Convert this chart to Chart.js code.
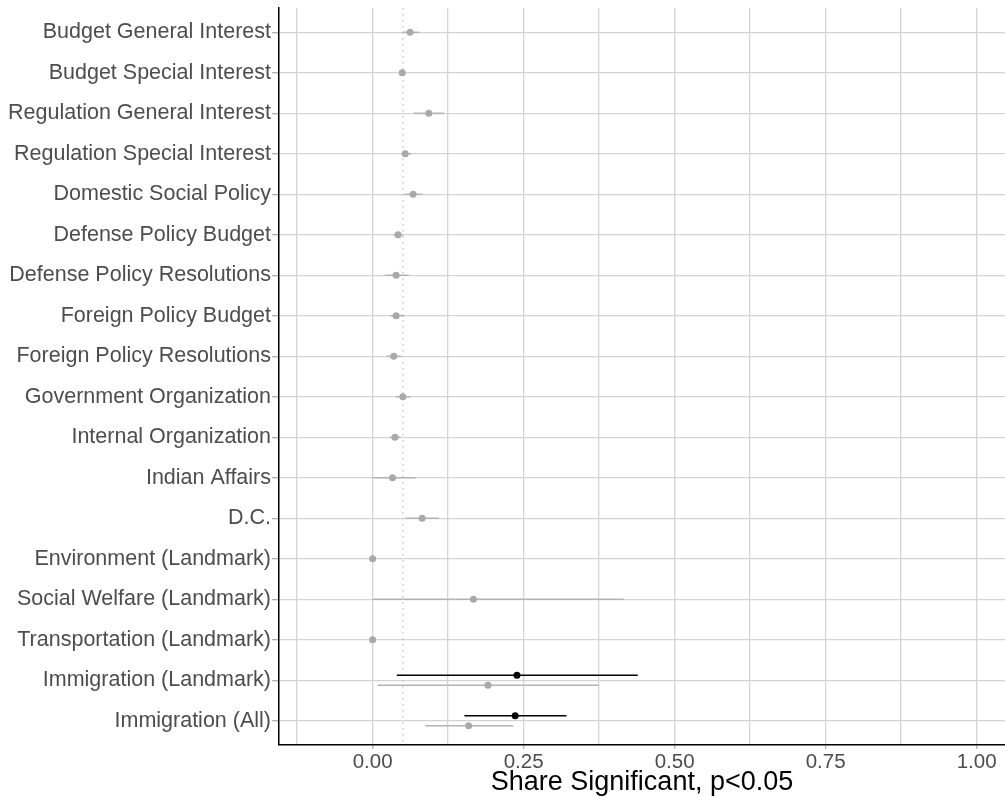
<!DOCTYPE html>
<html>
<head>
<meta charset="utf-8">
<script src="https://cdn.jsdelivr.net/npm/chart.js@4.4.0/dist/chart.umd.min.js"></script>
<style>
	html, body { margin: 0; padding: 0; background: #fff; overflow: hidden; }
	canvas { display: block; }
</style>
</head>
<body>
<canvas id="chart" width="1005" height="797"></canvas>
<script>
// Rows, top to bottom.
const categories = [
	'Budget General Interest',
	'Budget Special Interest',
	'Regulation General Interest',
	'Regulation Special Interest',
	'Domestic Social Policy',
	'Defense Policy Budget',
	'Defense Policy Resolutions',
	'Foreign Policy Budget',
	'Foreign Policy Resolutions',
	'Government Organization',
	'Internal Organization',
	'Indian Affairs',
	'D.C.',
	'Environment (Landmark)',
	'Social Welfare (Landmark)',
	'Transportation (Landmark)',
	'Immigration (Landmark)',
	'Immigration (All)',
];

// Grey series (estimate, lower, upper)
const greyEst  = [ 0.062, 0.049, 0.093, 0.054, 0.067, 0.042, 0.039, 0.039, 0.035, 0.050, 0.037, 0.033, 0.082, 0, 0.167, 0, 0.191, 0.159 ];
const greyLow  = [ 0.048, 0.044, 0.068, 0.047, 0.053, 0.034, 0.020, 0.029, 0.023, 0.038, 0.029, 0.000, 0.054, 0, 0.000, 0, 0.008, 0.087 ];
const greyHigh = [ 0.077, 0.054, 0.118, 0.065, 0.082, 0.051, 0.060, 0.053, 0.047, 0.063, 0.046, 0.071, 0.110, 0, 0.416, 0, 0.375, 0.233 ];

// Black series, only the immigration rows
const blackEst  = [ null, null, null, null, null, null, null, null, null, null, null, null, null, null, null, null, 0.239, 0.236 ];
const blackLow  = [ null, null, null, null, null, null, null, null, null, null, null, null, null, null, null, null, 0.040, 0.152 ];
const blackHigh = [ null, null, null, null, null, null, null, null, null, null, null, null, null, null, null, null, 0.439, 0.321 ];

const xTicks = [ -0.125, 0, 0.125, 0.25, 0.375, 0.5, 0.625, 0.75, 0.875, 1 ];
const refLine = 0.05;

const GREY = '#a9a9a9';
const GREY_LINE = '#b3b3b3';
const DODGE = 0.125;

// dodge only where both series exist
const hasBlack = ( i ) => blackEst[ i ] !== null;
const greyY = ( i ) => i + ( hasBlack( i ) ? DODGE : 0 );
const blackY = ( i ) => i - DODGE;
const isMajor = ( v ) => Math.abs( v * 4 - Math.round( v * 4 ) ) < 1e-6;

const series = [
	{ est: greyEst, low: greyLow, high: greyHigh, y: greyY, color: GREY_LINE },
	{ est: blackEst, low: blackLow, high: blackHigh, y: blackY, color: '#000' },
];

const whiskers = {
	id: 'whiskers',
	beforeDatasetsDraw( chart ) {
		const { ctx, chartArea: a, scales: { x, y } } = chart;
		ctx.save();
		ctx.beginPath();
		ctx.rect( a.left, a.top, a.right - a.left, a.bottom - a.top );
		ctx.clip();

		// dotted reference line
		ctx.strokeStyle = '#bdbdbd';
		ctx.lineWidth = 1.2;
		ctx.setLineDash( [ 1.5, 4.5 ] );
		ctx.beginPath();
		ctx.moveTo( x.getPixelForValue( refLine ), a.top );
		ctx.lineTo( x.getPixelForValue( refLine ), a.bottom );
		ctx.stroke();
		ctx.setLineDash( [] );

		series.forEach( ( s ) => {
			ctx.strokeStyle = s.color;
			ctx.lineWidth = 1.5;
			s.est.forEach( ( v, i ) => {
				if ( v === null || s.low[ i ] === s.high[ i ] ) {
					return;
				}
				const py = y.getPixelForValue( s.y( i ) );
				ctx.beginPath();
				ctx.moveTo( x.getPixelForValue( s.low[ i ] ), py );
				ctx.lineTo( x.getPixelForValue( s.high[ i ] ), py );
				ctx.stroke();
			} );
		} );
		ctx.restore();
	},
};

const toPoints = ( est, yFn ) => est
	.map( ( v, i ) => ( v === null ? null : { x: v, y: yFn( i ) } ) )
	.filter( ( p ) => p !== null );

const ctx = document.getElementById( 'chart' );
new Chart( ctx, {
	type: 'scatter',
	data: {
		datasets: [
			{
				data: toPoints( greyEst, greyY ),
				backgroundColor: GREY,
				borderWidth: 0,
				pointRadius: 3.5,
			},
			{
				data: toPoints( blackEst, blackY ),
				backgroundColor: '#000',
				borderWidth: 0,
				pointRadius: 3.5,
			},
		],
	},
	options: {
		responsive: false,
		devicePixelRatio: 1,
		animation: false,
		layout: { padding: 0, autoPadding: false },
		plugins: {
			legend: { display: false },
			tooltip: { enabled: false },
		},
		scales: {
			x: {
				type: 'linear',
				min: -0.155,
				max: 1.047,
				afterBuildTicks( scale ) {
					scale.ticks = xTicks.map( ( v ) => ( { value: v } ) );
				},
				afterFit( scale ) {
					scale.height = 52;
					scale.paddingLeft = 0;
					scale.paddingRight = 0;
				},
				border: { color: '#000', width: 1.5 },
				grid: {
					color: '#d4d4d4',
					lineWidth: 1.3,
					tickLength: 4,
					tickColor: ( c ) => ( c.tick && isMajor( c.tick.value ) ? '#b0b0b0' : 'rgba(0,0,0,0)' ),
				},
				ticks: {
					padding: 1,
					color: '#4d4d4d',
					font: { family: 'Liberation Sans', size: 20.5 },
					maxRotation: 0,
					autoSkip: false,
					callback: ( v ) => ( isMajor( v ) ? v.toFixed( 2 ) : '' ),
				},
				title: {
					display: true,
					text: 'Share Significant, p<0.05',
					color: '#000',
					font: { family: 'Liberation Sans', size: 27 },
					padding: { top: 0, bottom: -2 },
				},
			},
			y: {
				type: 'linear',
				min: -0.6,
				max: categories.length - 0.4,
				reverse: true,
				afterBuildTicks( scale ) {
					scale.ticks = categories.map( ( _, i ) => ( { value: i } ) );
				},
				afterFit( scale ) {
					scale.width = 279;
					scale.paddingTop = 8;
					scale.paddingBottom = 0;
				},
				border: { color: '#000', width: 1.5 },
				grid: {
					color: '#d4d4d4',
					lineWidth: 1.3,
					tickLength: 7,
					tickColor: '#b0b0b0',
				},
				ticks: {
					padding: 1,
					color: '#4d4d4d',
					font: { family: 'Liberation Sans', size: 21.5 },
					autoSkip: false,
					callback: ( v ) => categories[ v ],
				},
			},
		},
	},
	plugins: [ whiskers ],
} );
</script>
</body>
</html>
